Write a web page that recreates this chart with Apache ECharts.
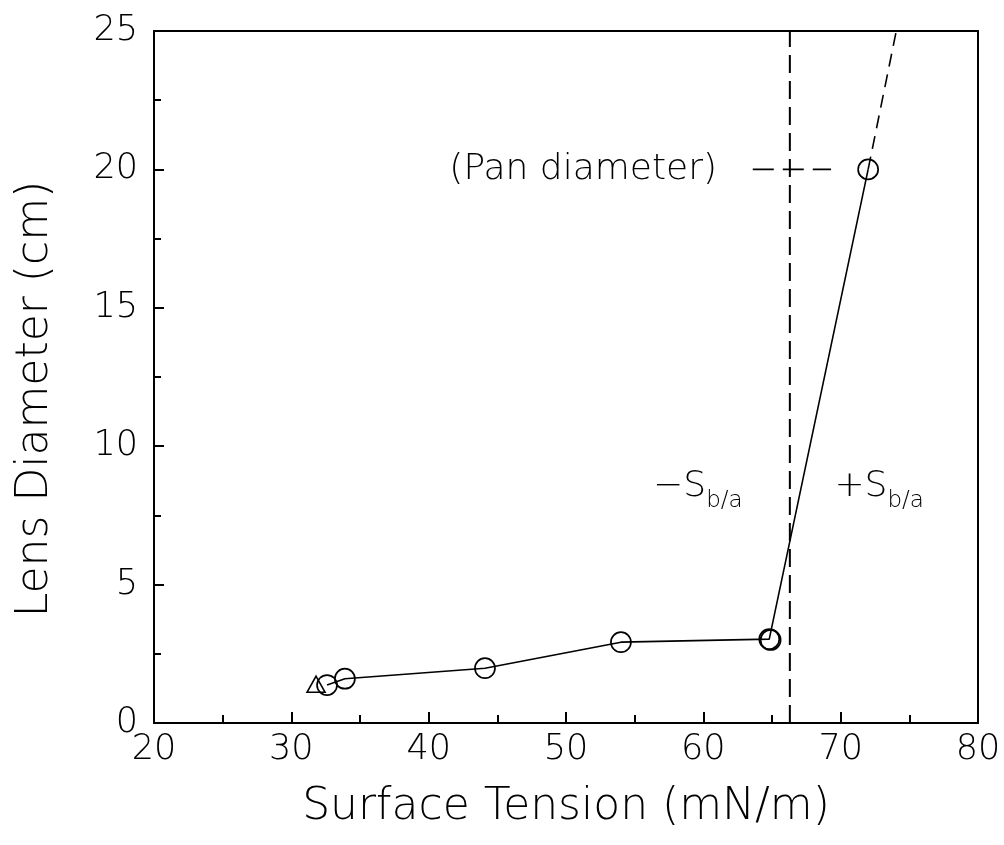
<!DOCTYPE html>
<html>
<head>
<meta charset="utf-8">
<script src="https://cdn.jsdelivr.net/npm/echarts@6/dist/echarts.min.js"></script>
<style>html,body{margin:0;padding:0;background:#fff;}#c{width:1004px;height:845px;}</style>
</head>
<body>
<div id="c"></div>
<script>
// ---- data ----
const tension  = [32.6, 33.9, 44.1, 54.0, 64.8, 64.9, 72.0];
const diameter = [1.37, 1.60, 1.98, 2.92, 3.03, 3.00, 20.0];
const triTension  = [31.8];
const triDiameter = [1.40];
const extTension  = [72.0, 74.05];
const extDiameter = [20.0, 25.0];
const boundaryTension = 66.3;
const boundaryRange = [0, 25];
const panDiameter = 20;
const panRange = [63.6, 69.3];
const annoText = ['(Pan diameter)', 'minus', 'plus'];
const annoX = [61.0, 59.6, 72.8];
const annoY = [20.0, 8.6, 8.6];
const xTicks = [20, 30, 40, 50, 60, 70, 80];
const yTicks = [0, 5, 10, 15, 20, 25];

const FONT = "'DejaVu Sans', sans-serif";
const zip = (a, b) => a.map((v, i) => [v, b[i]]);

const chart = echarts.init(document.getElementById('c'), null, {renderer: 'canvas'});
const axisBase = {
  axisLine: {show: true, onZero: false, lineStyle: {color: '#000', width: 2}},
  splitLine: {show: false}
};
const subRich = {
  s: {fontFamily: FONT, fontSize: 36, fontWeight: 200, color: '#000', verticalAlign: 'bottom', lineHeight: 40},
  sub: {fontFamily: FONT, fontSize: 23, fontWeight: 200, color: '#000', verticalAlign: 'bottom', lineHeight: 40, padding: [0, 0, -8, 0]}
};
function annoFormatter(p) {
  const t = annoText[p.dataIndex];
  if (t === 'minus') return '{s|\u2212S}{sub|b/a}';
  if (t === 'plus') return '{s|+S}{sub|b/a}';
  return t;
}

chart.setOption({
  animation: false,
  backgroundColor: '#fff',
  grid: {left: 154, right: 26, top: 31, bottom: 122},
  xAxis: [{
    ...axisBase, type: 'value', min: xTicks[0], max: xTicks[xTicks.length - 1], interval: 10,
    name: 'Surface Tension (mN/m)', nameLocation: 'middle', nameGap: 63,
    nameTextStyle: {fontFamily: FONT, fontSize: 44, fontWeight: 200, color: '#000'},
    axisTick: {show: true, inside: true, length: 11, lineStyle: {color: '#000', width: 2}},
    minorTick: {show: true, splitNumber: 2, length: 8, lineStyle: {color: '#000', width: 2}},
    axisLabel: {fontFamily: FONT, fontSize: 35, fontWeight: 200, color: '#000', margin: 9}
  }, {
    ...axisBase, type: 'value', position: 'top', min: 20, max: 80,
    axisTick: {show: false}, axisLabel: {show: false}
  }],
  yAxis: [{
    ...axisBase, type: 'value', min: yTicks[0], max: yTicks[yTicks.length - 1], interval: 5,
    name: 'Lens Diameter (cm)', nameLocation: 'middle', nameGap: 96,
    nameTextStyle: {fontFamily: FONT, fontSize: 44, fontWeight: 200, color: '#000', padding: [0, 44, 0, 0]},
    axisTick: {show: true, inside: true, length: 10, lineStyle: {color: '#000', width: 2}},
    minorTick: {show: true, splitNumber: 2, length: 7, lineStyle: {color: '#000', width: 2}},
    axisLabel: {fontFamily: FONT, fontSize: 35, fontWeight: 200, color: '#000', margin: 16}
  }, {
    ...axisBase, type: 'value', position: 'right', min: 0, max: 25,
    axisTick: {show: false}, axisLabel: {show: false}
  }],
  series: [
    {
      type: 'line', data: zip(tension, diameter),
      symbol: 'circle', symbolSize: 20,
      itemStyle: {color: 'rgba(0,0,0,0)', borderColor: '#000', borderWidth: 1.7, opacity: 1},
      lineStyle: {color: '#000', width: 1.6}, z: 5
    },
    {
      type: 'scatter', data: zip(triTension, triDiameter),
      symbol: 'triangle', symbolSize: [18, 16],
      itemStyle: {color: 'rgba(0,0,0,0)', borderColor: '#000', borderWidth: 1.6, opacity: 1}
    },
    {
      type: 'line', data: zip(extTension, extDiameter), symbol: 'none',
      lineStyle: {color: '#000', width: 1.6, type: [13, 8]}
    },
    {
      type: 'line', data: boundaryRange.map(v => [boundaryTension, v]), symbol: 'none',
      lineStyle: {color: '#000', width: 2, type: [18, 8]}
    },
    {
      type: 'line', data: panRange.map(v => [v, panDiameter]), symbol: 'none',
      lineStyle: {color: '#000', width: 1.8, type: [21, 9]}
    },
    {
      type: 'scatter', symbolSize: 0, silent: true,
      itemStyle: {opacity: 1},
      data: zip(annoX, annoY).map((d, i) => i === 0
        ? {value: d, label: {align: 'right'}}
        : {value: d}),
      label: {
        show: true, position: 'inside', align: 'center', verticalAlign: 'middle',
        formatter: annoFormatter,
        fontFamily: FONT, fontSize: 36, fontWeight: 200, color: '#000', opacity: 1,
        rich: subRich
      },
      labelLayout: {hideOverlap: false}
    }
  ]
});
</script>
</body>
</html>
